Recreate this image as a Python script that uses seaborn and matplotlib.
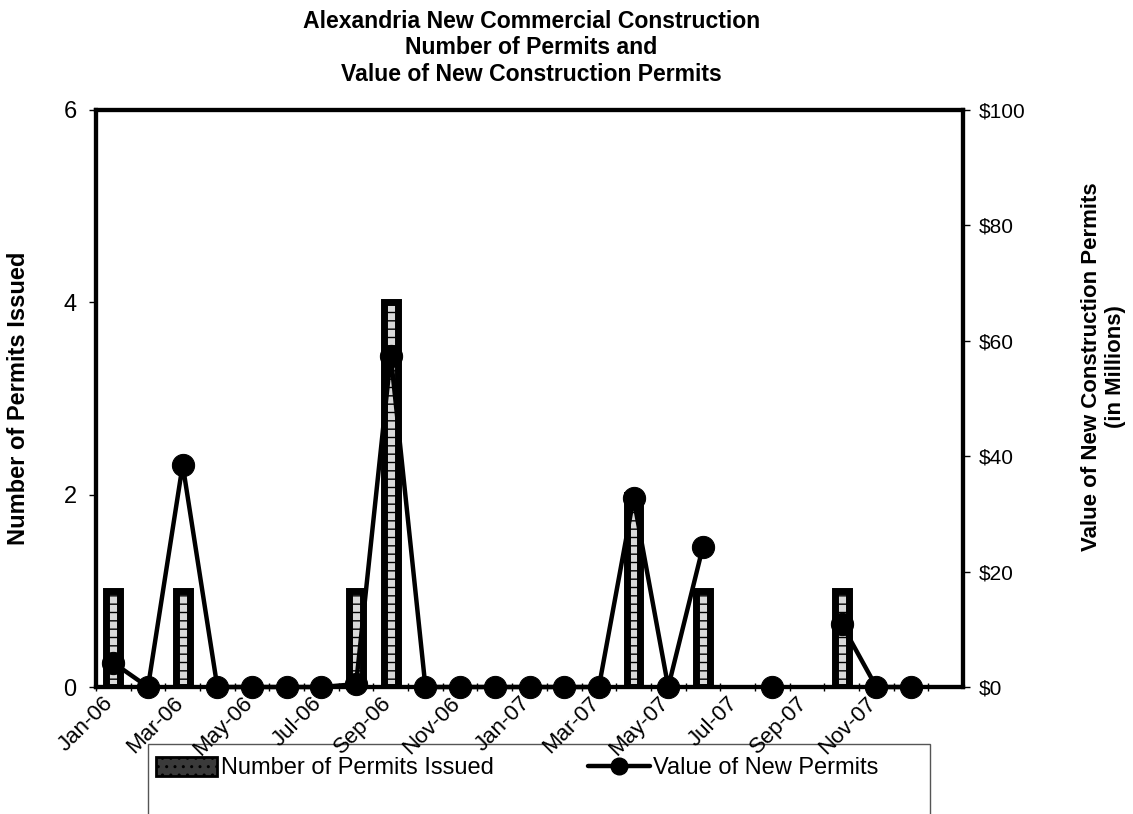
import numpy as np
import pandas as pd
import matplotlib
matplotlib.use("Agg")
import matplotlib.pyplot as plt
from matplotlib.lines import Line2D
from matplotlib.patches import Patch, Rectangle
import seaborn as sns

# Monthly data, Jan 2006 - Dec 2007
months = ["Jan-06", "Feb-06", "Mar-06", "Apr-06", "May-06", "Jun-06",
          "Jul-06", "Aug-06", "Sep-06", "Oct-06", "Nov-06", "Dec-06",
          "Jan-07", "Feb-07", "Mar-07", "Apr-07", "May-07", "Jun-07",
          "Jul-07", "Aug-07", "Sep-07", "Oct-07", "Nov-07", "Dec-07"]
permits = [1, 0, 1, 0, 0, 0, 0, 1, 4, 0, 0, 0,
           0, 0, 0, 2, 0, 1, 0, 0, 0, 1, 0, 0]
# value of new permits, $ millions (no figure reported for Jul-07 and Sep-07)
values = [4.2, 0, 38.5, 0, 0, 0, 0, 0.5, 57.4, 0, 0, 0,
          0, 0, 0, 32.7, 0, 24.3, np.nan, 0, np.nan, 10.9, 0, 0]
tick_months = months[::2]

sns.set_theme(style="white")
plt.rcParams["font.family"] = ["Liberation Sans", "DejaVu Sans"]
plt.rcParams.update({"text.color": "black", "axes.labelcolor": "black",
                     "xtick.color": "black", "ytick.color": "black"})

df = pd.DataFrame({"month": months, "permits": permits, "value": values})
df["pos"] = np.arange(len(df))
# break the value line wherever a month has no figure
df["segment"] = df["value"].isna().cumsum()
line_df = df.dropna(subset=["value"])

fig = plt.figure(figsize=(11.33, 8.14), dpi=100)
ax = fig.add_axes([0.0847, 0.156, 0.7653, 0.709])

sns.barplot(data=df, x="pos", y="permits", ax=ax, native_scale=True,
            width=0.4, color="#d9d9d9", edgecolor="black", linewidth=5,
            hatch="--", saturation=1)
# months without permits get no visible bar
for p in ax.patches:
    if p.get_height() == 0:
        p.set_visible(False)

ax2 = ax.twinx()
sns.lineplot(data=line_df, x="pos", y="value", units="segment",
             estimator=None, ax=ax2, color="black", linewidth=3.2,
             marker="o", markersize=16, markeredgecolor="black",
             markerfacecolor="black", clip_on=False)

ax.set_xlim(-0.5, 24.5)
ax.set_ylim(0, 6)
ax2.set_ylim(0, 100)

ax.set_yticks([0, 2, 4, 6])
ax.set_yticklabels(["0", "2", "4", "6"], fontsize=17)
ax2.set_yticks(np.arange(0, 101, 20))
ax2.set_yticklabels([f"${v}" for v in range(0, 101, 20)], fontsize=15)

# month labels every other month, slanted
lab_pos = np.arange(0, 24, 2) - 0.3
ax.set_xticks(lab_pos)
ax.set_xticklabels(tick_months, rotation=45, ha="right", va="top",
                   rotation_mode="anchor", fontsize=16)
ax.set_xticks(np.arange(-0.5, 24.5, 1), minor=True)
ax.tick_params(axis="x", which="major", length=0, pad=4)
ax.tick_params(axis="x", which="minor", length=6, width=1,
               direction="inout", color="black", bottom=True)
ax.tick_params(axis="y", length=5, width=1, color="black", left=True,
               direction="out", pad=9)
ax2.tick_params(axis="y", length=5, width=1, color="black", right=True,
                direction="out", pad=6)

for a in (ax, ax2):
    a.set_xlabel("")
    for s in a.spines.values():
        s.set_visible(True)
        s.set_color("black")
        s.set_linewidth(3)

ax.set_ylabel("Number of Permits Issued", fontsize=17, fontweight="bold",
              labelpad=24)
ax2.set_ylabel("Value of New Construction Permits\n(in Millions)",
               fontsize=16, fontweight="bold", labelpad=40, rotation=90)
ax2.yaxis.label.set_y(0.555)

fig.suptitle("Alexandria New Commercial Construction\nNumber of Permits and\n"
             "Value of New Construction Permits",
             x=0.469, y=0.988, fontsize=16.6, fontweight="bold",
             linespacing=1.2)

# legend box, sitting below the month labels and running off the bottom
fig.patches.append(Rectangle((148 / 1133, -0.02), (930 - 148) / 1133,
                             1 - 744 / 814 + 0.02, transform=fig.transFigure,
                             facecolor="white", edgecolor="#555555",
                             linewidth=1, zorder=-1))

handles = [
    Patch(facecolor="#3a3a3a", edgecolor="black", linewidth=2, hatch="..",
          label="Number of Permits Issued"),
    Line2D([0], [0], color="black", linewidth=3.2, marker="o",
           markersize=12, label="Value of New Permits"),
]
leg = fig.legend(handles=handles, loc="center left",
                 bbox_to_anchor=(156 / 1133, 1 - 768 / 814),
                 ncol=2, fontsize=17, frameon=False, borderpad=0,
                 borderaxespad=0, handlelength=2.6, handleheight=0.85,
                 handletextpad=0.15, columnspacing=4.0)

fig.savefig("out.png", dpi=100)
